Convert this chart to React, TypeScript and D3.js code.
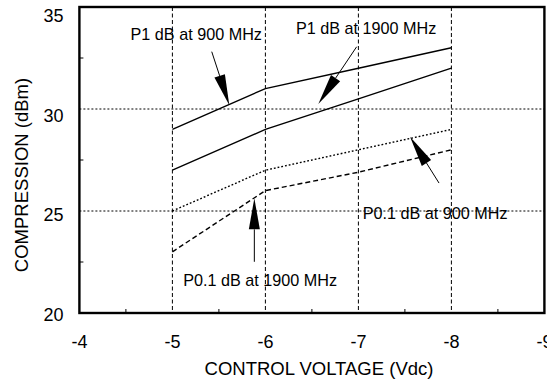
import React from "react";
import * as d3 from "d3";

const voltages = [-5, -6, -7, -8];
const p1At900 = [29, 31, 32, 33];
const p1At1900 = [27, 29, 30.5, 32];
const p01At900 = [25, 27, 28, 29];
const p01At1900 = [23, 26, 26.9, 28];

const xTicks = [-4, -5, -6, -7, -8, -9];
const xMinor = [-4.5, -5.5, -6.5, -7.5, -8.5];
const yTicks = [20, 25, 30, 35];
const yMinor = [22.5, 27.5, 32.5];
const xGrid = [-5, -6, -7, -8];
const yGrid = [25, 30];

const labels = ["P1 dB at 900 MHz", "P1 dB at 1900 MHz", "P0.1 dB at 900 MHz", "P0.1 dB at 1900 MHz"];
const labelX = [-4.55, -6.329, -7.046, -5.117];
const labelY = [33.39, 33.68, 24.59, 21.32];
const arrowFromX = [-5.423, -6.981, -7.867, -5.881];
const arrowFromY = [32.81, 33.05, 26.37, 22.51];
const arrowToX = [-5.612, -6.569, -7.555, -5.881];
const arrowToY = [30.18, 30.25, 28.64, 25.62];

const W = 547;
const H = 381;
const FONT = "'Liberation Sans', Arial, Helvetica, sans-serif";

export default function App() {
  const x = d3.scaleLinear().domain([-4, -9]).range([79.4, 544.4]);
  const y = d3.scaleLinear().domain([20, 35]).range([313, 7]);
  const line = d3
    .line<number>()
    .x((_, i) => x(voltages[i]))
    .y((d) => y(d));

  const series = [
    { vals: p1At900, dash: undefined as string | undefined },
    { vals: p1At1900, dash: undefined as string | undefined },
    { vals: p01At900, dash: "1.8,2" },
    { vals: p01At1900, dash: "5,3" },
  ];

  const headLen = 31;
  const headHalf = 5.5;

  return (
    <svg
      width={W}
      height={H}
      style={{ position: "absolute", left: 0, top: 0, background: "#fff" }}
      fontFamily={FONT}
    >
      <rect x={0} y={0} width={W} height={H} fill="#fff" />
      {xGrid.map((v) => (
        <line key={"xg" + v} x1={x(v)} x2={x(v)} y1={y(35)} y2={y(20)} stroke="#000" strokeWidth={1} strokeDasharray="4,2.5" />
      ))}
      {yGrid.map((v) => (
        <line key={"yg" + v} x1={x(-4)} x2={x(-9)} y1={y(v)} y2={y(v)} stroke="#000" strokeWidth={1} strokeDasharray="2,2" />
      ))}
      {xMinor.map((v) => (
        <line key={"xm" + v} x1={x(v)} x2={x(v)} y1={y(20)} y2={y(20) - 4} stroke="#000" strokeWidth={1} />
      ))}
      {yMinor.map((v) => (
        <line key={"ym" + v} x1={x(-4)} x2={x(-4) + 4} y1={y(v)} y2={y(v)} stroke="#000" strokeWidth={1} />
      ))}
      {series.map((s, i) => (
        <path key={"s" + i} d={line(s.vals) || ""} fill="none" stroke="#000" strokeWidth={1.4} strokeDasharray={s.dash} />
      ))}
      <rect x={x(-4)} y={y(35)} width={x(-9) - x(-4)} height={y(20) - y(35)} fill="none" stroke="#000" strokeWidth={2.4} />
      {labels.map((t, i) => {
        const x0 = x(arrowFromX[i]);
        const y0 = y(arrowFromY[i]);
        const x1 = x(arrowToX[i]);
        const y1 = y(arrowToY[i]);
        const dx = x1 - x0;
        const dy = y1 - y0;
        const len = Math.hypot(dx, dy);
        const ux = dx / len;
        const uy = dy / len;
        const bx = x1 - ux * headLen;
        const by = y1 - uy * headLen;
        const px = -uy * headHalf;
        const py = ux * headHalf;
        return (
          <g key={"a" + i}>
            <text x={x(labelX[i])} y={y(labelY[i])} fontSize={16.2} fill="#000">
              {t}
            </text>
            <line x1={x0} y1={y0} x2={bx} y2={by} stroke="#000" strokeWidth={1} />
            <polygon points={`${x1},${y1} ${bx + px},${by + py} ${bx - px},${by - py}`} fill="#000" />
          </g>
        );
      })}
      {xTicks.map((v) => (
        <text key={"xt" + v} x={x(v)} y={347.5} textAnchor="middle" fontSize={18} fill="#000">
          {v}
        </text>
      ))}
      {yTicks.map((v) => (
        <text
          key={"yt" + v}
          x={63.5}
          y={y(v) + 1.5 + ((v - 20) / 15) * 7.5}
          dy="0.35em"
          textAnchor="end"
          fontSize={18}
          fill="#000"
        >
          {v}
        </text>
      ))}
      <text x={319} y={375} textAnchor="middle" fontSize={18.5} fill="#000">
        CONTROL VOLTAGE (Vdc)
      </text>
      <text transform="translate(27.5,175) rotate(-90)" textAnchor="middle" fontSize={18.5} fill="#000">
        COMPRESSION (dBm)
      </text>
    </svg>
  );
}
